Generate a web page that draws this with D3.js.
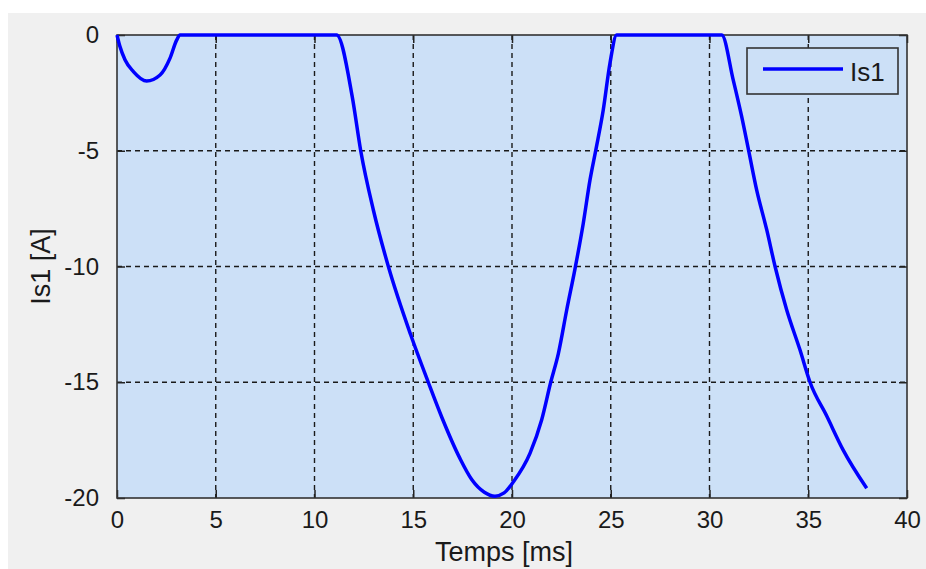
<!DOCTYPE html>
<html>
<head>
<meta charset="utf-8">
<script src="https://d3js.org/d3.v7.min.js"></script>
<style>
  body { margin: 0; background: #fff; }
  text { font-family: "Liberation Sans", Arial, sans-serif; fill: #1a1a1a; }
  .grid line { stroke: #1a1a1a; stroke-width: 1.4; stroke-dasharray: 5,4; }
</style>
</head>
<body>
<svg width="926" height="569"></svg>
<script>
// Is1 current samples (time in ms, current in A)
var temps = [0, 0.15, 0.41, 0.83, 1.5, 2.18, 2.68, 3.02, 3.19,
  11.12, 11.91, 12.34, 12.98, 13.74, 14.87, 15.76, 16.44, 17.37, 17.96, 18.6, 19.14,
  19.6, 20.07, 20.91, 21.5, 21.96, 22.35, 22.77, 23.19, 23.61, 23.95, 24.25, 24.62, 24.96, 25.3,
  30.62, 31.2, 31.63, 31.97, 32.39, 32.9, 33.32, 33.91, 34.58, 35.09, 35.93, 36.77, 37.96];
var is1 = [0, -0.5, -1.08, -1.58, -1.99, -1.73, -1.01, -0.22, 0,
  0, -2.66, -5, -7.56, -10, -12.95, -15, -16.5, -18.3, -19.2, -19.75, -19.92,
  -19.78, -19.3, -18.07, -16.63, -15, -13.75, -11.88, -10.1, -8.13, -6.26, -4.94, -3.24, -1.22, 0,
  0, -1.94, -3.53, -4.94, -6.7, -8.42, -10, -11.88, -13.6, -15, -16.45, -17.93, -19.58];
var xTicks = [0, 5, 10, 15, 20, 25, 30, 35, 40];
var yTicks = [0, -5, -10, -15, -20];
var seriesName = "Is1";

var svg = d3.select("svg");
var pLeft = 117, pTop = 35, pRight = 907, pBottom = 498;
var plotBg = "#cce0f7";

// figure background
svg.append("rect").attr("x", 8).attr("y", 13).attr("width", 918).attr("height", 556).attr("fill", "#f0f0f0");

var x = d3.scaleLinear().domain([0, 40]).range([pLeft, pRight]);
var y = d3.scaleLinear().domain([-20, 0]).range([pBottom, pTop]);

svg.append("rect").attr("x", pLeft).attr("y", pTop)
  .attr("width", pRight - pLeft).attr("height", pBottom - pTop)
  .attr("fill", plotBg);

// dashed grid
var grid = svg.append("g").attr("class", "grid");
grid.selectAll(".gx").data(xTicks.slice(1, -1)).enter().append("line")
  .attr("x1", d => x(d)).attr("x2", d => x(d)).attr("y1", pTop).attr("y2", pBottom);
grid.selectAll(".gy").data(yTicks.slice(1, -1)).enter().append("line")
  .attr("y1", d => y(d)).attr("y2", d => y(d)).attr("x1", pLeft).attr("x2", pRight);

// axes, ticks pointing inward; plain hyphen for negatives like the original
var fmt = d => String(d);
function styleAxis(g) {
  g.select(".domain").remove();
  g.selectAll(".tick line").attr("stroke", "#222").attr("stroke-width", 1.5);
  g.selectAll(".tick text").style("font-size", "24px").attr("fill", "#1a1a1a");
}
svg.append("g").attr("transform", "translate(0," + pBottom + ")")
  .call(d3.axisBottom(x).tickValues(xTicks).tickSizeInner(-8).tickSizeOuter(0).tickPadding(13).tickFormat(fmt))
  .call(styleAxis);
svg.append("g").attr("transform", "translate(0," + pTop + ")")
  .call(d3.axisTop(x).tickValues(xTicks).tickSizeInner(-8).tickSizeOuter(0).tickFormat(""))
  .call(styleAxis);
svg.append("g").attr("transform", "translate(" + pLeft + ",0)")
  .call(d3.axisLeft(y).tickValues(yTicks).tickSizeInner(-8).tickSizeOuter(0).tickPadding(18).tickFormat(fmt))
  .call(styleAxis);
svg.append("g").attr("transform", "translate(" + pRight + ",0)")
  .call(d3.axisRight(y).tickValues(yTicks).tickSizeInner(-8).tickSizeOuter(0).tickFormat(""))
  .call(styleAxis);

svg.append("rect").attr("x", pLeft).attr("y", pTop)
  .attr("width", pRight - pLeft).attr("height", pBottom - pTop)
  .attr("fill", "none").attr("stroke", "#333").attr("stroke-width", 1.6);

// the curve
var pts = temps.map((t, i) => [t, is1[i]]);
var line = d3.line().x(d => x(d[0])).y(d => y(d[1])).curve(d3.curveMonotoneX);
svg.append("path").datum(pts).attr("d", line)
  .attr("fill", "none").attr("stroke", "#0000ff").attr("stroke-width", 3.5)
  .attr("stroke-linejoin", "round");

// legend
var lg = svg.append("g");
lg.append("rect").attr("x", 747).attr("y", 48).attr("width", 151).attr("height", 46)
  .attr("fill", plotBg).attr("stroke", "#333").attr("stroke-width", 1.6);
lg.append("line").attr("x1", 763).attr("x2", 843).attr("y1", 69).attr("y2", 69)
  .attr("stroke", "#0000ff").attr("stroke-width", 3.5);
lg.append("text").attr("x", 850).attr("y", 81).style("font-size", "26px").text(seriesName);

// axis labels
svg.append("text").attr("x", (pLeft + pRight) / 2 - 8).attr("y", 561)
  .attr("text-anchor", "middle").style("font-size", "27px").text("Temps [ms]");
svg.append("text").attr("transform", "translate(50," + (pTop + pBottom) / 2 + ") rotate(-90)")
  .attr("text-anchor", "middle").style("font-size", "27px").text("Is1 [A]");
</script>
</body>
</html>
